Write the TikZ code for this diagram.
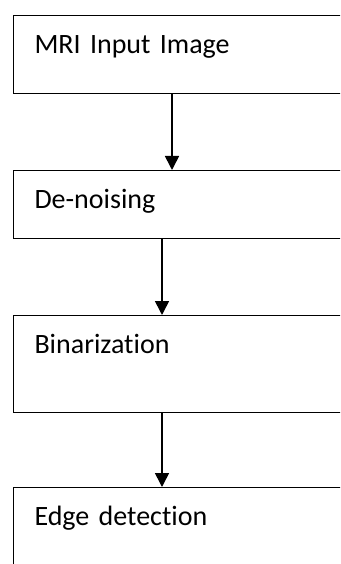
\documentclass[tikz,border=0pt]{standalone}
\usepackage{fontspec}
\setmainfont{Carlito}[Ligatures=NoCommon]
\usetikzlibrary{positioning,arrows.meta}

\tikzset{
  stepbox/.style={draw, line width=1pt, inner xsep=21pt, inner ysep=0pt,
    text width=358pt, align=left, text height=38pt, font=\fontsize{28}{32}\selectfont},
  flow/.style={line width=1.6pt, -{Triangle[width=14pt,length=14pt]}}
}

\begin{document}
\begin{tikzpicture}[x=1pt,y=1pt]
  \useasboundingbox (0,0) rectangle (340,-564);
  \clip (0,0) rectangle (340,-564);

  \node[stepbox, text depth=40pt, anchor=north west] (mri) at (13,-15) {MRI Input Image};
  \node[stepbox, text depth=30pt, below=76pt of mri] (den) {De-noising};
  \node[stepbox, text depth=59pt, below=76pt of den] (bin) {Binarization};
  \node[stepbox, text depth=70pt, below=74pt of bin] (edge) {Edge detection};

  %arrows
  \draw[flow] ([xshift=159pt]mri.south west) -- ([xshift=159pt]mri.south west |- den.north);
  \draw[flow] ([xshift=149pt]den.south west) -- ([xshift=149pt]den.south west |- bin.north);
  \draw[flow] ([xshift=149pt]bin.south west) -- ([xshift=149pt]bin.south west |- edge.north);
\end{tikzpicture}
\end{document}
